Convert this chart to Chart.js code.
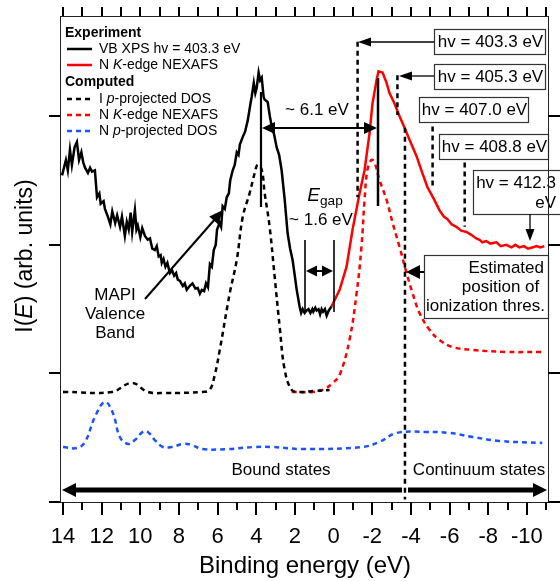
<!DOCTYPE html>
<html>
<head>
<meta charset="utf-8">
<script src="https://cdn.jsdelivr.net/npm/chart.js@4.4.1/dist/chart.umd.min.js"></script>
<style>
  html, body { margin: 0; padding: 0; background: #fff; }
  #wrap { width: 560px; height: 581px; position: relative; }
</style>
</head>
<body>
<div id="wrap"><canvas id="chart"></canvas></div>
<script>
// eixo x: energia de ligação (eV), invertido
const xTickValues = [14, 12, 10, 8, 6, 4, 2, 0, -2, -4, -6, -8, -10]
const xMinorTicks = [13, 11, 9, 7, 5, 3, 1, -1, -3, -5, -7, -9, -11]
const yTickValues = [0, 1, 2, 3]

// VB XPS hv = 403.3 eV (experimento)
const vbEnergy = [14.05, 13.95, 13.85, 13.75, 13.64, 13.54, 13.40, 13.28, 13.17, 13.05, 12.95, 12.86, 12.71, 12.60, 12.50, 12.35, 12.24, 12.12, 12.05, 11.90, 11.83, 11.68, 11.55, 11.45, 11.30, 11.20, 11.05, 10.95, 10.80, 10.70, 10.60, 10.50, 10.42, 10.28, 10.20, 10.13, 10.00, 9.90, 9.76, 9.62, 9.50, 9.38, 9.25, 9.15, 9.05, 8.95, 8.89, 8.80, 8.70, 8.60, 8.47, 8.35, 8.25, 8.15, 8.06, 7.95, 7.80, 7.70, 7.60, 7.45, 7.30, 7.15, 7.03, 6.92, 6.82, 6.70, 6.60, 6.50, 6.40, 6.30, 6.20, 6.10, 6.03, 5.90, 5.82, 5.74, 5.63, 5.53, 5.42, 5.35, 5.22, 5.12, 5.01, 4.92, 4.85, 4.70, 4.58, 4.44, 4.30, 4.24, 4.13, 4.05, 3.98, 3.88, 3.80, 3.72, 3.62, 3.57, 3.41, 3.30, 3.20, 3.08, 2.95, 2.82, 2.69, 2.53, 2.38, 2.25, 2.12, 2.00, 1.91, 1.76, 1.68, 1.60, 1.50, 1.40, 1.30, 1.20, 1.10, 1.05, 0.95, 0.88, 0.78, 0.70, 0.62, 0.55, 0.45, 0.36, 0.25, 0.11]
const vbValue = [2.54, 2.60, 2.66, 2.58, 2.74, 2.62, 2.76, 2.80, 2.66, 2.72, 2.64, 2.60, 2.56, 2.60, 2.57, 2.58, 2.37, 2.40, 2.32, 2.34, 2.28, 2.22, 2.16, 2.26, 2.17, 2.23, 2.14, 2.22, 2.07, 2.18, 2.12, 2.25, 2.10, 2.27, 2.12, 2.15, 2.06, 2.13, 2.07, 2.04, 2.05, 1.97, 1.96, 1.99, 1.91, 1.92, 1.86, 1.89, 1.83, 1.86, 1.78, 1.80, 1.76, 1.78, 1.73, 1.72, 1.68, 1.70, 1.65, 1.68, 1.70, 1.66, 1.665, 1.62, 1.65, 1.64, 1.70, 1.67, 1.85, 1.83, 1.96, 2.00, 2.12, 2.17, 2.14, 2.30, 2.28, 2.37, 2.40, 2.50, 2.58, 2.62, 2.72, 2.70, 2.78, 2.84, 2.88, 2.97, 3.10, 3.15, 3.26, 3.18, 3.22, 3.34, 3.28, 3.30, 3.15, 3.13, 3.11, 3.00, 2.92, 2.86, 2.76, 2.70, 2.58, 2.35, 2.09, 1.97, 1.88, 1.75, 1.65, 1.52, 1.47, 1.50, 1.47, 1.49, 1.50, 1.47, 1.50, 1.48, 1.51, 1.49, 1.50, 1.46, 1.50, 1.48, 1.50, 1.45, 1.49, 1.52]

// N K-edge NEXAFS (experimento)
const nexEnergy = [0.11, -0.31, -0.67, -0.98, -1.34, -1.60, -1.86, -2.01, -2.22, -2.32, -2.53, -2.74, -2.89, -3.15, -3.41, -3.67, -3.92, -4.29, -4.54, -4.85, -5.21, -5.47, -5.70, -5.89, -6.10, -6.35, -6.60, -6.87, -7.10, -7.38, -7.55, -7.69, -7.90, -8.10, -8.42, -8.65, -8.93, -9.20, -9.40, -9.61, -9.85, -10.05, -10.28, -10.50, -10.70, -10.90]
const nexValue = [1.52, 1.65, 1.83, 2.12, 2.40, 2.58, 2.87, 3.10, 3.28, 3.35, 3.34, 3.26, 3.18, 3.10, 3.00, 2.91, 2.82, 2.69, 2.58, 2.45, 2.35, 2.27, 2.22, 2.20, 2.16, 2.14, 2.11, 2.10, 2.08, 2.05, 2.04, 2.02, 2.03, 2.01, 2.02, 1.99, 2.00, 1.98, 2.00, 1.98, 1.99, 1.97, 1.98, 1.99, 1.98, 1.99]

// I p-projected DOS (calculado)
const iDosEnergy = [14.0, 11.47, 10.44, 9.61, 8.73, 6.77, 6.41, 6.15, 5.89, 5.37, 5.01, 4.70, 4.34, 4.08, 3.93, 3.72, 3.57, 3.31, 3.05, 2.79, 2.53, 2.17, 1.76, 0.98, 0.21]
const iDosValue = [0.856, 0.856, 0.926, 0.856, 0.848, 0.856, 0.872, 0.988, 1.183, 1.626, 1.883, 2.218, 2.405, 2.560, 2.623, 2.584, 2.405, 2.140, 1.751, 1.362, 1.027, 0.872, 0.856, 0.864, 0.872]

// N K-edge NEXAFS (calculado)
const nexCalcEnergy = [2.17, 1.09, 0.47, 0.05, -0.31, -0.82, -1.19, -1.44, -1.60, -1.75, -1.96, -2.12, -2.37, -2.74, -3.05, -3.41, -3.77, -4.08, -4.44, -4.96, -5.47, -6.14, -7.18, -8.93, -10.79]
const nexCalcValue = [0.856, 0.856, 0.879, 0.926, 0.988, 1.261, 1.626, 1.984, 2.350, 2.584, 2.661, 2.638, 2.506, 2.350, 2.171, 1.984, 1.782, 1.626, 1.471, 1.339, 1.261, 1.206, 1.183, 1.167, 1.167]

// N p-projected DOS (calculado)
const nDosEnergy = [14.0, 13.28, 12.86, 12.35, 11.83, 11.42, 11.06, 10.64, 10.28, 9.87, 9.61, 9.25, 8.83, 8.37, 7.80, 7.34, 6.82, 5.48, 4.08, 3.20, 1.60, -1.50, -2.37, -3.25, -4.80, -5.99, -7.18, -8.57, -10.79]
const nDosValue = [0.428, 0.420, 0.467, 0.661, 0.778, 0.693, 0.506, 0.451, 0.482, 0.545, 0.545, 0.482, 0.428, 0.428, 0.451, 0.444, 0.412, 0.412, 0.428, 0.428, 0.412, 0.428, 0.467, 0.537, 0.545, 0.537, 0.506, 0.475, 0.459]

// linhas tracejadas verticais: [energia, topo, base]
const thresholdLines = [
  [-1.24, 3.58, 2.37],
  [-3.30, 3.32, 3.01],
  [-5.12, 2.92, 2.43],
  [-6.78, 2.64, 2.14],
  [-3.69, 2.91, 0.02]
]

const FONT = '"Liberation Sans", Arial, Helvetica, sans-serif'
const RED = "#ff0000"
const BLUE = "#1a53ff"

function pts(xs, ys) {
  return xs.map((x, i) => ({ x: x, y: ys[i] }))
}

// texto com partes em itálico / subscrito
function rich(ctx, parts, x, y, size, align) {
  const fontOf = (p) => (p.i ? "italic " : "") + (p.b ? "bold " : "") + (p.sub ? size * 0.72 : size) + "px " + FONT
  let w = 0
  parts.forEach((p) => {
    ctx.font = fontOf(p)
    w += ctx.measureText(p.t).width
  })
  let cx = align === "center" ? x - w / 2 : align === "right" ? x - w : x
  ctx.textAlign = "left"
  parts.forEach((p) => {
    ctx.font = fontOf(p)
    ctx.fillText(p.t, cx, y + (p.sub ? size * 0.3 : 0))
    cx += ctx.measureText(p.t).width
  })
}

function head(ctx, x, y, ang, len, half) {
  ctx.beginPath()
  ctx.moveTo(x, y)
  ctx.lineTo(x - len * Math.cos(ang) + half * Math.sin(ang), y - len * Math.sin(ang) - half * Math.cos(ang))
  ctx.lineTo(x - len * Math.cos(ang) - half * Math.sin(ang), y - len * Math.sin(ang) + half * Math.cos(ang))
  ctx.closePath()
  ctx.fill()
}

function arrow(ctx, x1, y1, x2, y2, lw, len, half) {
  const ang = Math.atan2(y2 - y1, x2 - x1)
  ctx.lineWidth = lw
  ctx.beginPath()
  ctx.moveTo(x1, y1)
  ctx.lineTo(x2 - (len - 1) * Math.cos(ang), y2 - (len - 1) * Math.sin(ang))
  ctx.stroke()
  head(ctx, x2, y2, ang, len, half)
}

function line(ctx, x1, y1, x2, y2, lw) {
  ctx.lineWidth = lw
  ctx.beginPath()
  ctx.moveTo(x1, y1)
  ctx.lineTo(x2, y2)
  ctx.stroke()
}

function box(ctx, x, y, w, h) {
  ctx.fillStyle = "#fff"
  ctx.fillRect(x, y, w, h)
  ctx.strokeStyle = "#333"
  ctx.lineWidth = 1.2
  ctx.strokeRect(x + 0.5, y + 0.5, w, h)
  ctx.fillStyle = "#000"
  ctx.strokeStyle = "#000"
}

// moldura, ticks e títulos dos eixos
const framePlugin = {
  id: "frame",
  afterDraw(chart) {
    const ctx = chart.ctx
    const a = chart.chartArea
    const xs = chart.scales.x
    const ys = chart.scales.y
    ctx.save()
    ctx.setLineDash([])
    ctx.strokeStyle = "#222"
    ctx.lineWidth = 1
    ctx.strokeRect(a.left + 0.5, a.top + 0.5, a.right - a.left, a.bottom - a.top)

    // ticks como retângulos preenchidos
    ctx.fillStyle = "#000"
    const tickX = (v, len) => {
      const px = Math.round(xs.getPixelForValue(v))
      ctx.fillRect(px - 1, a.bottom, 2, len)
      ctx.fillRect(px - 1, a.top - 9, 2, 9)
    }
    xTickValues.forEach((v) => tickX(v, 13))
    xMinorTicks.forEach((v) => tickX(v, 8))
    yTickValues.forEach((v) => {
      const py = Math.round(ys.getPixelForValue(v))
      ctx.fillRect(a.left - 11, py - 1, 11, 2)
      ctx.fillRect(a.right, py - 1, 12, 2)
    })

    ctx.fillStyle = "#000"
    ctx.textBaseline = "middle"
    ctx.textAlign = "center"
    ctx.font = "22px " + FONT
    xTickValues.forEach((v) => {
      ctx.fillText(String(v), xs.getPixelForValue(v), 537)
    })
    ctx.font = "24px " + FONT
    ctx.fillText("Binding energy (eV)", 305, 566)

    ctx.save()
    ctx.translate(26, 256)
    ctx.rotate(-Math.PI / 2)
    ctx.textBaseline = "middle"
    rich(ctx, [{ t: "I(" }, { t: "E", i: true }, { t: ") (arb. units)" }], 0, 0, 23, "center")
    ctx.restore()
    ctx.restore()
  },
}

// anotações, legenda e setas
const notesPlugin = {
  id: "notes",
  afterDatasetsDraw(chart) {
    const ctx = chart.ctx
    const xs = chart.scales.x
    const ys = chart.scales.y
    ctx.save()
    ctx.fillStyle = "#000"
    ctx.strokeStyle = "#000"
    ctx.textBaseline = "middle"

    // linhas tracejadas dos limiares
    ctx.setLineDash([5, 4])
    thresholdLines.forEach(([e, top, bot]) => {
      const px = xs.getPixelForValue(e)
      line(ctx, px, ys.getPixelForValue(top), px, ys.getPixelForValue(bot), 2.5)
    })
    ctx.setLineDash([])

    // ~ 6.1 eV
    line(ctx, 261, 92, 261, 207, 2.2)
    line(ctx, 378, 78, 378, 206, 2.5)
    arrow(ctx, 320, 128, 262, 128, 2.2, 13, 6)
    arrow(ctx, 320, 128, 377, 128, 2.2, 13, 6)
    ctx.font = "17px " + FONT
    ctx.textAlign = "center"
    ctx.fillText("~ 6.1 eV", 317, 110)

    // E gap
    line(ctx, 305, 240, 305, 312, 1.6)
    line(ctx, 334, 240, 334, 312, 1.6)
    arrow(ctx, 320, 271, 306, 271, 2, 11, 5.5)
    arrow(ctx, 319, 271, 333, 271, 2, 11, 5.5)
    rich(ctx, [{ t: "E", i: true }, { t: "gap", sub: true }], 325, 196, 19, "center")
    ctx.font = "17px " + FONT
    ctx.textAlign = "center"
    ctx.fillText("~ 1.6 eV", 321, 220)

    // MAPI
    arrow(ctx, 145, 299, 223, 210, 2, 14, 6)
    ctx.font = "17px " + FONT
    ctx.textAlign = "center"
    ctx.fillText("MAPI", 115, 295)
    ctx.fillText("Valence", 115, 314)
    ctx.fillText("Band", 115, 333)

    // caixas hv
    const hvBoxes = [
      ["hv = 403.3 eV", 434, 29, 111],
      ["hv = 405.3 eV", 434, 64, 111],
      ["hv = 407.0 eV", 419, 97, 109],
      ["hv = 408.8 eV", 439, 134, 109],
    ]
    hvBoxes.forEach(([t, x, y, w]) => {
      box(ctx, x, y, w, 25)
      ctx.font = "17px " + FONT
      ctx.textAlign = "center"
      ctx.fillText(t, x + w / 2 + 1, y + 13)
    })
    arrow(ctx, 434, 42, 358, 42, 1.3, 13, 4.5)
    arrow(ctx, 434, 76, 399, 76, 1.3, 13, 4.5)

    box(ctx, 473, 170, 88, 44)
    ctx.font = "17px " + FONT
    ctx.textAlign = "right"
    ctx.fillText("hv = 412.3", 556, 183)
    ctx.fillText("eV", 556, 203)
    arrow(ctx, 530, 214, 530, 241, 1.3, 12, 4.5)

    // limiar de ionização
    box(ctx, 424, 255, 124, 63)
    ctx.font = "17px " + FONT
    ctx.textAlign = "right"
    ctx.fillText("Estimated", 544, 268)
    ctx.fillText("position of ", 544, 287)
    ctx.fillText("ionization thres.", 545, 306)
    arrow(ctx, 424, 272, 406, 272, 2, 14, 7)

    // estados ligados / contínuo
    ctx.font = "17px " + FONT
    ctx.textAlign = "center"
    ctx.fillText("Bound states", 281, 470)
    ctx.fillText("Continuum states", 479, 470)
    arrow(ctx, 402, 490, 62, 490, 5, 14, 7)
    arrow(ctx, 408, 490, 547, 490, 5, 14, 7)

    // legenda
    ctx.textAlign = "left"
    ctx.font = "bold 14px " + FONT
    ctx.fillText("Experiment", 65, 33)
    ctx.fillText("Computed", 65, 82)
    const items = [
      [49, "#000", false, [{ t: "VB XPS hv = 403.3 eV" }]],
      [65, RED, false, [{ t: "N " }, { t: "K", i: true }, { t: "-edge NEXAFS" }]],
      [99, "#000", true, [{ t: "I " }, { t: "p", i: true }, { t: "-projected DOS" }]],
      [115, RED, true, [{ t: "N " }, { t: "K", i: true }, { t: "-edge NEXAFS" }]],
      [131, BLUE, true, [{ t: "N " }, { t: "p", i: true }, { t: "-projected DOS" }]],
    ]
    items.forEach(([y, c, dashed, parts]) => {
      ctx.strokeStyle = c
      ctx.setLineDash(dashed ? [5, 4] : [])
      line(ctx, 67, y, 92, y, 2.5)
      ctx.setLineDash([])
      ctx.fillStyle = "#000"
      rich(ctx, parts, 99, y, 14, "left")
    })
    ctx.restore()
  },
}

new Chart(document.getElementById("chart"), {
  type: "line",
  data: {
    datasets: [
      { label: "VB XPS hv = 403.3 eV", data: pts(vbEnergy, vbValue), borderColor: "#000", borderWidth: 2.5, tension: 0 },
      { label: "N K-edge NEXAFS", data: pts(nexEnergy, nexValue), borderColor: RED, borderWidth: 2.5, tension: 0 },
      { label: "I p-projected DOS", data: pts(iDosEnergy, iDosValue), borderColor: "#000", borderWidth: 2.5, borderDash: [5, 4], tension: 0.4 },
      { label: "N K-edge NEXAFS (calc)", data: pts(nexCalcEnergy, nexCalcValue), borderColor: RED, borderWidth: 2.5, borderDash: [5, 4], tension: 0.4 },
      { label: "N p-projected DOS", data: pts(nDosEnergy, nDosValue), borderColor: BLUE, borderWidth: 2.5, borderDash: [5, 4], tension: 0.4 },
    ],
  },
  options: {
    responsive: true,
    maintainAspectRatio: false,
    animation: false,
    elements: { point: { radius: 0 } },
    layout: { padding: { left: 60, right: 12, top: 16, bottom: 79 } },
    plugins: { legend: { display: false }, tooltip: { enabled: false } },
    scales: {
      x: { type: "linear", reverse: true, min: -11.09, max: 14.155, display: false },
      y: { min: 0, max: 3.78, display: false },
    },
  },
  plugins: [framePlugin, notesPlugin],
})
</script>
</body>
</html>
